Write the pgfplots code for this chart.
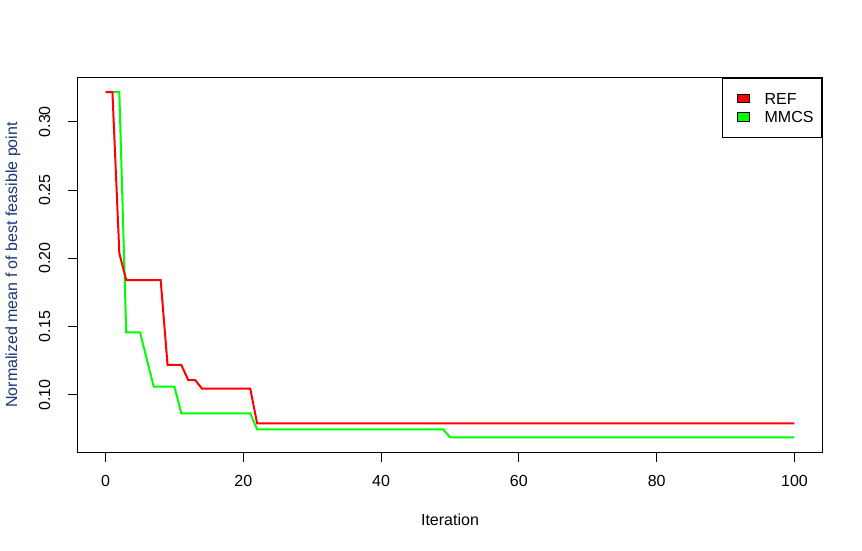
\documentclass[border=0pt]{standalone}
\usepackage{fontspec}
\setmainfont{Liberation Sans}
\usepackage{pgfplots}
\pgfplotsset{compat=1.18}
\definecolor{rred}{RGB}{255,0,0}
\definecolor{rgreen}{RGB}{0,255,0}
\definecolor{labblue}{RGB}{25,55,120}
\begin{document}
\begin{tikzpicture}
\path[use as bounding box] (-58.5pt,-73.5pt) rectangle (588pt,339pt);
\begin{axis}[
  at={(0pt,0pt)}, anchor=south west,
  scale only axis, width=558pt, height=280.5pt,
  xmin=-4, xmax=104, ymin=0.0582, ymax=0.3320,
  xtick={0,20,40,60,80,100},
  ytick={0.10,0.15,0.20,0.25,0.30},
  xtick pos=bottom, ytick pos=left,
  tick align=outside,
  major tick length=7.2pt,
  axis line style={line width=0.75pt},
  every tick/.style={line width=0.75pt, black},
  /pgf/number format/assume math mode=true,
  yticklabel={\pgfmathprintnumber[fixed,fixed zerofill,precision=2]{\tick}},
  tick label style={font=\fontsize{12}{14}\selectfont, inner sep=0pt, text height=8.6pt, text depth=0pt},
  xticklabel style={anchor=north, yshift=-9.75pt},
  yticklabel style={xshift=-13.5pt, rotate=90, anchor=south},
  xlabel={Iteration},
  ylabel={Normalized mean f of best feasible point},
  label style={font=\fontsize{12}{14}\selectfont},
  xlabel style={at={(axis description cs:0.5,-0.1818)}, anchor=center, inner sep=0pt},
  ylabel style={at={(axis description cs:-0.0874,0.5)}, anchor=center, rotate=0, inner sep=0pt, text=labblue},
  legend style={at={(rel axis cs:1,1)}, anchor=north east, draw=black, line width=0.75pt, fill=white,
    inner xsep=6pt, inner ysep=10.875pt, row sep=5.175pt,
    font=\fontsize{12}{14}\selectfont,
    nodes={inner sep=0pt, text height=8.6pt, text depth=0pt},
    /tikz/every odd column/.append style={column sep=11.025pt}},
  legend cell align=left,
]
\addplot[rgreen, line width=1.5pt, forget plot] coordinates {
(0,0.3217) (2,0.3217) (3,0.1458) (5,0.1458) (6,0.1259) (7,0.1060) (10,0.1060) (11,0.0865) (21,0.0865) (22,0.0748) (49,0.0748) (50,0.0690) (100,0.0690)
};
\addplot[rred, line width=1.5pt, forget plot] coordinates {
(0,0.3217) (1,0.3217) (2,0.2037) (3,0.1841) (8,0.1841) (9,0.1219) (11,0.1219) (12,0.1109) (13,0.1109) (14,0.1046) (21,0.1046) (22,0.0792) (100,0.0792)
};
\addlegendimage{legend image code/.code={\path (0pt,0pt); \draw[fill=rred, draw=black, line width=0.75pt] (4.5pt,-3.15pt) rectangle (13.5pt,3.15pt);}}
\addlegendentry{REF}
\addlegendimage{legend image code/.code={\path (0pt,0pt); \draw[fill=rgreen, draw=black, line width=0.75pt] (4.5pt,-3.15pt) rectangle (13.5pt,3.15pt);}}
\addlegendentry{MMCS}
\end{axis}
\end{tikzpicture}
\end{document}
